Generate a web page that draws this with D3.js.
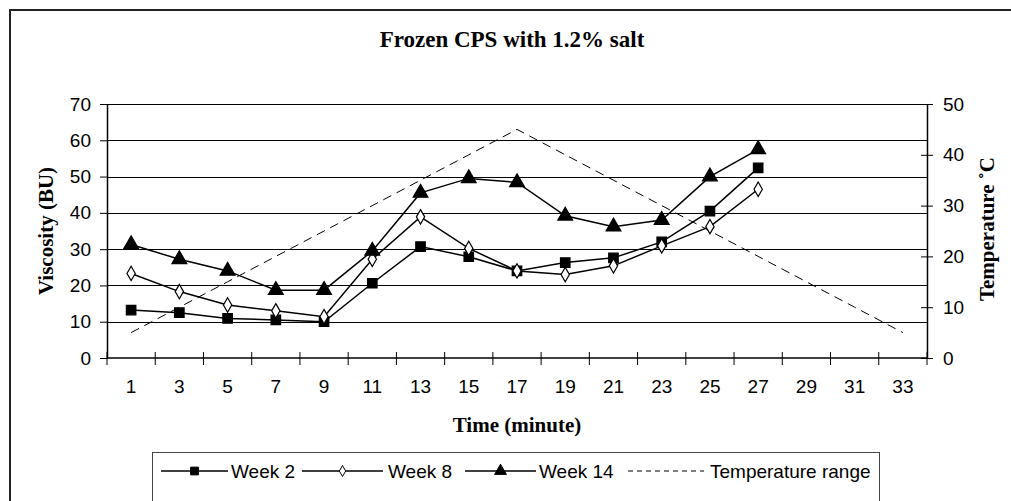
<!DOCTYPE html>
<html><head><meta charset="utf-8">
<script src="https://cdn.jsdelivr.net/npm/d3@7"></script>
<style>body{margin:0;background:#fff;overflow:hidden}</style>
</head><body><svg id="c" width="1011" height="501"></svg>
<script>
const categories = [1,3,5,7,9,11,13,15,17,19,21,23,25,27,29,31,33];
const week2  = [13.2,12.5,10.9,10.5,10.0,20.6,30.7,27.9,24.0,26.3,27.6,32.0,40.5,52.4];
const week8  = [23.3,18.3,14.6,13.0,11.4,27.2,38.9,30.2,24.0,23.0,25.4,30.9,36.2,46.5];
const week14 = [31.3,27.2,24.0,18.7,18.7,29.5,45.5,49.5,48.4,39.2,36.2,38.0,50.0,57.5];
const temperature = [5,10,15,20,25,30,35,40,45,40,35,30,25,20,15,10,5];
const leftTicks = [0,10,20,30,40,50,60,70];
const rightTicks = [0,10,20,30,40,50];
const seriesNames = ["Week 2","Week 8","Week 14","Temperature range"];

const svg = d3.select("#c");
const L = 107, R = 927, T = 104, B = 358;
const sans = "'Liberation Sans', Arial, sans-serif";
const serif = "'Liberation Serif', 'Times New Roman', serif";

// outer chart border
svg.append("rect").attr("x",10).attr("y",10).attr("width",1100).attr("height",700)
  .attr("fill","none").attr("stroke","#222").attr("stroke-width",2);

const x = d3.scaleBand().domain(categories).range([L,R]);
const yL = d3.scaleLinear().domain([0,70]).range([B,T]);
const yR = d3.scaleLinear().domain([0,50]).range([B,T]);
const cx = c => x(c) + x.bandwidth()/2;

// gridlines
svg.append("g").selectAll("line").data(leftTicks.filter(d=>d>0)).join("line")
  .attr("x1",L).attr("x2",R)
  .attr("y1",d=>Math.round(yL(d))+0.5).attr("y2",d=>Math.round(yL(d))+0.5)
  .attr("stroke","#000").attr("stroke-width",1);

// left axis
const gl = svg.append("g").attr("transform",`translate(${L},0)`)
  .call(d3.axisLeft(yL).tickValues(leftTicks).tickSize(7).tickPadding(9).tickSizeOuter(0));
// right axis
const gr = svg.append("g").attr("transform",`translate(${R},0)`)
  .call(d3.axisRight(yR).tickValues(rightTicks).tickSize(6).tickPadding(10).tickSizeOuter(0));
gr.selectAll(".tick line").attr("x1",-6);
// bottom axis: ticks at category boundaries
const gb = svg.append("g").attr("transform",`translate(0,${B})`)
  .call(d3.axisBottom(x).tickSize(0).tickPadding(22));
gb.select(".domain").remove();
svg.append("line").attr("x1",L).attr("x2",R).attr("y1",B).attr("y2",B).attr("stroke","#000").attr("stroke-width",1.5);
const bounds = categories.map(c=>x(c)).concat([R]);
svg.append("g").selectAll("line").data(bounds).join("line")
  .attr("x1",d=>d).attr("x2",d=>d).attr("y1",B-6).attr("y2",B+7)
  .attr("stroke","#000").attr("stroke-width",1);

[gl,gr,gb].forEach(g=>{
  g.selectAll(".domain").attr("stroke","#000").attr("stroke-width",1.5);
  g.selectAll(".tick line").attr("stroke","#000");
  g.selectAll("text").attr("font-family",sans).attr("font-size",19).attr("fill","#000");
});

// temperature dashed line
const lineR = d3.line().x((d,i)=>cx(categories[i])).y(d=>yR(d));
svg.append("path").datum(temperature).attr("d",lineR)
  .attr("fill","none").attr("stroke","#000").attr("stroke-width",1).attr("stroke-dasharray","9,6");

const lineL = d3.line().x((d,i)=>cx(categories[i])).y(d=>yL(d));
const sqr = d3.symbol().type(d3.symbolSquare).size(90);
const dia = d3.symbol().type(d3.symbolDiamond).size(60);
const tri = d3.symbol().type(d3.symbolTriangle).size(95);

function drawSeries(data, sym, fill){
  svg.append("path").datum(data).attr("d",lineL).attr("fill","none").attr("stroke","#000").attr("stroke-width",1.5);
  svg.append("g").selectAll("path").data(data).join("path")
    .attr("transform",(d,i)=>`translate(${cx(categories[i])},${yL(d)})`)
    .attr("d",sym).attr("fill",fill).attr("stroke","#000").attr("stroke-width",1.2);
}
drawSeries(week2, sqr, "#000");
drawSeries(week8, dia, "#fff");
drawSeries(week14, tri, "#000");

// titles
svg.append("text").attr("x",512).attr("y",47).attr("text-anchor","middle")
  .attr("font-family",serif).attr("font-weight","bold").attr("font-size",23).text("Frozen CPS with 1.2% salt");
svg.append("text").attr("x",(L+R)/2).attr("y",432).attr("text-anchor","middle")
  .attr("font-family",serif).attr("font-weight","bold").attr("font-size",21).text("Time (minute)");
svg.append("text").attr("transform","translate(53,231) rotate(-90)").attr("text-anchor","middle")
  .attr("font-family",serif).attr("font-weight","bold").attr("font-size",21).text("Viscosity (BU)");
svg.append("text").attr("transform","translate(994,229) rotate(-90)").attr("text-anchor","middle")
  .attr("font-family",serif).attr("font-weight","bold").attr("font-size",21).text("Temperature \u02DAC");

// legend
svg.append("rect").attr("x",152.5).attr("y",452.5).attr("width",727).attr("height",80)
  .attr("fill","#fff").attr("stroke","#444").attr("stroke-width",1);
const ly = 471;
const sqrS = d3.symbol().type(d3.symbolSquare).size(60);
const diaS = d3.symbol().type(d3.symbolDiamond).size(35);
const triS = d3.symbol().type(d3.symbolTriangle).size(60);
const items = [
  {x1:161,x2:228,tx:231,sym:sqrS,fill:"#000",dash:null},
  {x1:302,x2:383,tx:388,sym:diaS,fill:"#fff",dash:null},
  {x1:465,x2:536,tx:539,sym:triS,fill:"#000",dash:null},
  {x1:628,x2:704,tx:710,sym:null,fill:null,dash:"5,4"}
];
items.forEach((it,i)=>{
  svg.append("line").attr("x1",it.x1).attr("x2",it.x2).attr("y1",ly).attr("y2",ly)
    .attr("stroke","#000").attr("stroke-width",it.dash?1:1.5).attr("stroke-dasharray",it.dash);
  if(it.sym){
    svg.append("path").attr("transform",`translate(${(it.x1+it.x2)/2},${ly})`)
      .attr("d",it.sym).attr("fill",it.fill).attr("stroke","#000").attr("stroke-width",1);
  }
  svg.append("text").attr("x",it.tx).attr("y",ly+7).attr("font-family",sans).attr("font-size",19)
    .text(seriesNames[i]);
});
</script></body></html>
